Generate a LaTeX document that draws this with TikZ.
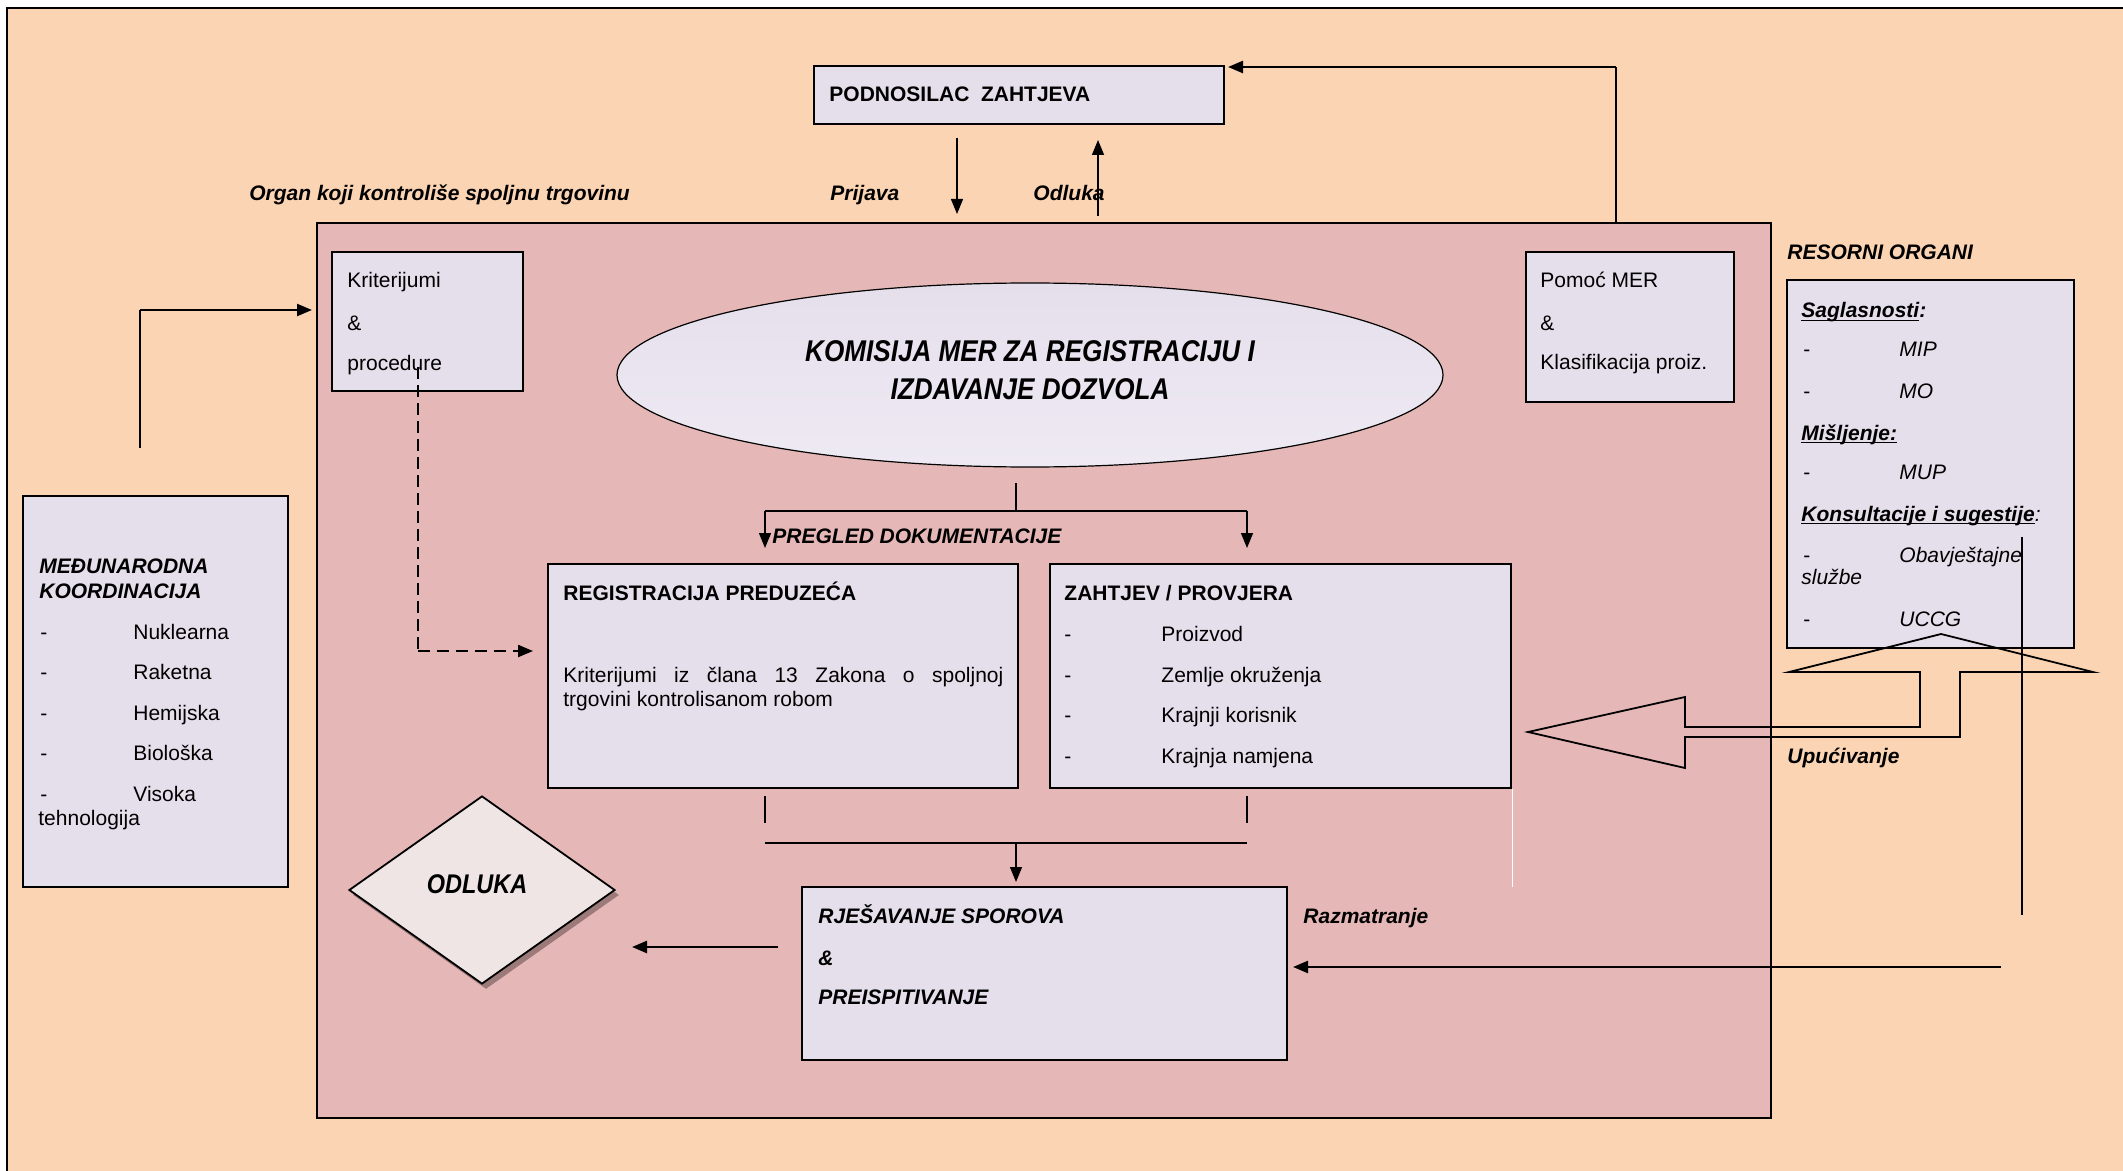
\documentclass[tikz,border=0pt]{standalone}
\usepackage{fontspec}
\setmainfont{Liberation Sans}
\newfontfamily\narrowfont[FakeStretch=0.87]{Liberation Sans}
\usetikzlibrary{arrows.meta,shapes.geometric}
\definecolor{peach}{HTML}{FBD4B4}
\definecolor{rose}{HTML}{E5B8B7}
\definecolor{lav}{HTML}{E5DFEC}
\definecolor{lavlight}{HTML}{EEEAF3}
\definecolor{diafill}{HTML}{F0E5E5}
\definecolor{diashadow}{HTML}{9C7A7A}
\newcommand\ulin[1]{\setbox0\hbox{#1}\rlap{\rule[-1.6pt]{\wd0}{0.7pt}}\box0}
\newcommand\bodyfont{\fontsize{10.5}{12}\selectfont}
\begin{document}
\begin{tikzpicture}[x=0.5pt,y=-0.5pt,
  box/.style={draw, fill=lav, line width=1.1pt, rectangle, inner sep=0pt},
  txt/.style={inner sep=0pt, anchor=base west, font=\bodyfont},
  bi/.style={txt, font=\bodyfont\bfseries\itshape},
  bd/.style={txt, font=\bodyfont\bfseries},
  itx/.style={txt, font=\bodyfont\itshape},
  conn/.style={line width=0.7pt},
  arr/.style={conn, -{Triangle[length=7.5pt,width=6pt]}},
  thickarr/.style={line width=1.2pt, -{Triangle[length=7.5pt,width=6pt]}}]
\useasboundingbox (0,0) rectangle (2123,1171);
\fill[white] (0,0) rectangle (2123,1171);
\fill[peach] (7,8) rectangle (2123,1171);
\draw[line width=1.3pt] (7,1171) -- (7,8) -- (2123,8);

% main pink area
\node[draw, fill=rose, line width=1.2pt, inner sep=0pt, minimum width=727pt, minimum height=447.5pt] (inner) at (1044,670.5) {};

% boxes
\node[box, minimum width=205pt, minimum height=29pt] (podn) at (1019,95) {};
\node[box, minimum width=95.5pt, minimum height=69.5pt] (krit) at (427.5,321.5) {};
\node[box, minimum width=104pt, minimum height=75pt] (pomoc) at (1630,327) {};
\node[box, minimum width=143.5pt, minimum height=184pt] (resorni) at (1930.5,464) {};
\node[box, minimum width=132.5pt, minimum height=195.5pt] (medj) at (155.5,691.5) {};
\node[box, minimum width=235pt, minimum height=112pt] (reg) at (783,676) {};
\node[box, minimum width=230.5pt, minimum height=112pt] (zaht) at (1280.5,676) {};
\node[box, minimum width=242.5pt, minimum height=86.5pt] (rjes) at (1044.5,973.5) {};
\node[ellipse, draw, line width=0.6pt, top color=lav, bottom color=lavlight, minimum width=413pt, minimum height=92pt, inner sep=0pt] (kom) at (1030,375) {};
\node[diamond, fill=diashadow, minimum width=133pt, minimum height=94pt, inner sep=0pt] (odlsh) at (486,895) {};
\node[diamond, draw, fill=diafill, line width=0.9pt, minimum width=133pt, minimum height=94pt, inner sep=0pt] (odl) at (482,890) {};

% texts
\node[bi] (t-organ) at (249,201) {Organ koji kontroliše spoljnu trgovinu};
\node[bi] (t-prij) at (830,201) {Prijava};
\node[bi] (t-odl) at (1033,201) {Odluka};
\node[bd] (t-podn) at (829,102) {PODNOSILAC~~ZAHTJEVA};
\node[txt] (t-k1) at (347,288) {Kriterijumi};
\node[txt] (t-k2) at (347,330) {\&};
\node[txt] (t-k3) at (347,371) {procedure};
\node[txt] (t-p1) at (1540,288) {Pomoć MER};
\node[txt] (t-p2) at (1540,330) {\&};
\node[txt] (t-p3) at (1540,370) {Klasifikacija proiz.};
\node[inner sep=0pt, anchor=base, font=\fontsize{15}{18}\narrowfont\bfseries\itshape] (t-kom1) at (1030,362) {KOMISIJA MER ZA REGISTRACIJU I};
\node[inner sep=0pt, anchor=base, font=\fontsize{15}{18}\narrowfont\bfseries\itshape] (t-kom2) at (1030,399) {IZDAVANJE DOZVOLA};

\node[bi] (t-res) at (1787,260) {RESORNI ORGANI};
\node[bi] (t-sag) at (1801,318) {\ulin{Saglasnosti}:};
\node[txt] (t-mip) at (1803,357) {\makebox[48pt][l]{-}\itshape MIP};
\node[txt] (t-mo) at (1803,398) {\makebox[48pt][l]{-}\itshape MO};
\node[bi] (t-mis) at (1801,440) {\ulin{Mišljenje:}};
\node[txt] (t-mup) at (1803,479) {\makebox[48pt][l]{-}\itshape MUP};
\node[bi] (t-kons) at (1801,521) {\ulin{Konsultacije i sugestije}\mdseries:};
\node[txt] (t-obav) at (1803,562) {\makebox[48pt][l]{-}\itshape Obavještajne};
\node[itx] (t-sluz) at (1801,584) {službe};
\node[txt] (t-uccg) at (1803,626) {\makebox[48pt][l]{-}\itshape UCCG};
\node[bi] (t-upuc) at (1787,763) {Upućivanje};

\node[bi] (t-med1) at (39,573) {MEĐUNARODNA};
\node[bi] (t-med2) at (39,598) {KOORDINACIJA};
\node[txt] (t-m1) at (40,639) {\makebox[46.5pt][l]{-}Nuklearna};
\node[txt] (t-m2) at (40,679) {\makebox[46.5pt][l]{-}Raketna};
\node[txt] (t-m3) at (40,720) {\makebox[46.5pt][l]{-}Hemijska};
\node[txt] (t-m4) at (40,760) {\makebox[46.5pt][l]{-}Biološka};
\node[txt] (t-m5) at (40,801) {\makebox[46.5pt][l]{-}Visoka};
\node[txt] (t-m6) at (38,825) {tehnologija};

\node[bi] (t-preg) at (772,543) {PREGLED DOKUMENTACIJE};
\node[bd] (t-reg) at (563,600) {REGISTRACIJA PREDUZEĆA};
\node[txt, text width=220pt, align=justify] (t-regtxt) at (563,682) {\hyphenpenalty=10000 \exhyphenpenalty=10000 \tolerance=9999 Kriterijumi iz člana 13 Zakona o spoljnoj\linebreak trgovini kontrolisanom robom};
\node[bd] (t-zah) at (1064,600) {ZAHTJEV / PROVJERA};
\node[txt] (t-z1) at (1064,641) {\makebox[48.5pt][l]{-}Proizvod};
\node[txt] (t-z2) at (1064,682) {\makebox[48.5pt][l]{-}Zemlje okruženja};
\node[txt] (t-z3) at (1064,722) {\makebox[48.5pt][l]{-}Krajnji korisnik};
\node[txt] (t-z4) at (1064,763) {\makebox[48.5pt][l]{-}Krajnja namjena};
\node[bi] (t-rj1) at (818,923) {RJEŠAVANJE SPOROVA};
\node[bi] (t-rj2) at (818,965) {\&};
\node[bi] (t-rj3) at (818,1004) {PREISPITIVANJE};
\node[bi] (t-razm) at (1303,923) {Razmatranje};
\node[inner sep=0pt, anchor=base, font=\fontsize{13.5}{16}\narrowfont\bfseries\itshape] (t-odluka) at (477,893) {ODLUKA};

% connectors
\coordinate (c1a) at (957,138); \coordinate (c1b) at (957,214);
\draw[arr] (c1a) -- (c1b);
\coordinate (c2a) at (1098,216); \coordinate (c2b) at (1098,140);
\draw[arr] (c2a) -- (c2b);
\coordinate (c3a) at (1616,223); \coordinate (c3m) at (1616,67); \coordinate (c3b) at (1228,67);
\draw[conn] (c3a) -- (c3m);
\draw[thickarr] (c3m) -- (c3b);
\coordinate (c4a) at (140,448); \coordinate (c4m) at (140,310); \coordinate (c4b) at (312,310);
\draw[conn] (c4a) -- (c4m);
\draw[thickarr] (c4m) -- (c4b);
\coordinate (c5a) at (418,367); \coordinate (c5m) at (418,651); \coordinate (c5b) at (533,651);
\draw[conn, dash pattern=on 6pt off 3pt] (c5a) -- (c5m);
\draw[line width=1.1pt, dash pattern=on 6pt off 3.5pt, -{Triangle[length=7.5pt,width=6pt]}] (c5m) -- (c5b);
\coordinate (c6a) at (1016,483); \coordinate (c6m) at (1016,511);
\coordinate (c6l) at (765,511); \coordinate (c6r) at (1247,511);
\coordinate (c6lb) at (765,548); \coordinate (c6rb) at (1247,548);
\draw[conn] (c6a) -- (c6m);
\draw[conn] (c6l) -- (c6r);
\draw[arr] (c6l) -- (c6lb);
\draw[arr] (c6r) -- (c6rb);
\coordinate (c7l) at (765,796); \coordinate (c7lb) at (765,823);
\coordinate (c7r) at (1247,796); \coordinate (c7rb) at (1247,823);
\coordinate (c7hl) at (765,843); \coordinate (c7hr) at (1247,843);
\coordinate (c7m) at (1016,843); \coordinate (c7b) at (1016,882);
\draw[conn] (c7l) -- (c7lb);
\draw[conn] (c7r) -- (c7rb);
\draw[line width=0.9pt] (c7hl) -- (c7hr);
\draw[arr] (c7m) -- (c7b);
\coordinate (c8a) at (778,947); \coordinate (c8b) at (632,947);
\draw[thickarr] (c8a) -- (c8b);
\coordinate (c9a) at (2001,967); \coordinate (c9b) at (1293,967);
\draw[thickarr] (c9a) -- (c9b);
\draw[white, line width=0.5pt] (zaht.south east) -- ++(0,98);

% block arrow (Upucivanje)
\draw[line width=0.9pt, line join=miter] (1528,732) -- (1685,697) -- (1685,727) -- (1920,727) -- (1920,672) -- (1789,672) -- (1941,634) -- (2093,672) -- (1960,672) -- (1960,737) -- (1685,737) -- (1685,768) -- cycle;
\coordinate (c10a) at (2022,537); \coordinate (c10b) at (2022,915);
\draw[conn] (c10a) -- (c10b);
\end{tikzpicture}
\end{document}
